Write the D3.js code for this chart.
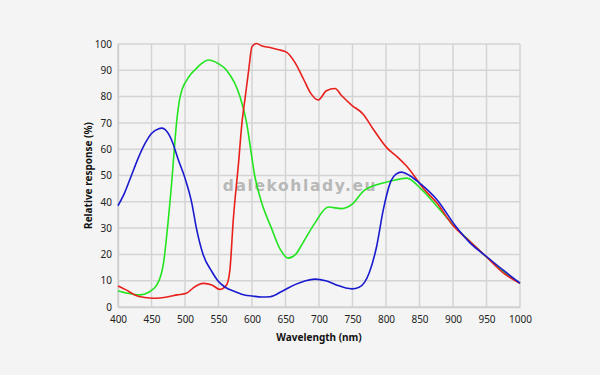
<!DOCTYPE html>
<html>
<head>
<meta charset="utf-8">
<script src="https://cdn.jsdelivr.net/npm/d3@7"></script>
<style>
  html, body { margin: 0; padding: 0; background: #f4f4f4; }
  svg { display: block; }
</style>
</head>
<body>
<svg id="chart" width="600" height="375"></svg>
<script>
const xTicks = [400, 450, 500, 550, 600, 650, 700, 750, 800, 850, 900, 950, 1000];
const yTicks = [0, 10, 20, 30, 40, 50, 60, 70, 80, 90, 100];

const blueWl = [400,410,420,430,440,450,460,465,470,480,490,500,510,517,527,540,549,560,575,590,600,614,627,645,665,680,694,710,725,740,749,760,775,786,796,806,815,823,835,853,876,904,925,950,975,1000];
const blueVal = [38.5,43.5,50,56.5,62,66,67.7,68,67.5,63.5,56,49,39.7,30,20,13.5,10,7.5,5.8,4.5,4.2,3.8,3.9,6,8.6,10,10.6,10,8.5,7.2,6.9,7.5,13,23,37,47,50.5,51.3,50,46.5,40.8,30.7,24.5,19.2,14,9.1];

const greenWl = [400,415,433,445,458,468,475,481,484,487,492,496,502,508,515,525,535,550,562,582,592,598,604,614,629,642,654,665,676,694,714,734,749,766,786,806,831,853,876,900,925,950,975,1000];
const greenVal = [6.2,5.2,4.6,5.5,8.4,16.8,33,50,60,69,79,83,86,88.3,90.2,92.6,93.9,92.5,90,80,70,60,50,40,30,22,18.6,20,24.4,32,38,37.4,39,44,46.5,47.8,49,44.7,38.3,31.3,25,19,13.5,9];

const redWl = [400,412,425,440,453,475,488,502,512,520,528,540,552,562,567,572,580,585,590,595,600,607,615,627,640,652,664,677,687,699,711,724,734,749,766,781,801,818,831,846,853,876,900,925,950,975,1000];
const redVal = [8,6.5,4.6,3.6,3.3,3.9,4.6,5.2,7.2,8.5,9.0,8.4,6.7,8.4,14,33,55,70,80,90,99,100.2,99.2,98.7,97.8,96.8,93,86.6,81.5,78.7,82.2,83.1,80.3,76.7,73.3,67.6,60.6,56.8,53.5,48.5,46,39.5,31,25,19,13,9];

const seriesNames = ["Red", "Green", "Blue"];
const seriesColors = ["#e8201c", "#22e41f", "#1a1ad0"];

const svg = d3.select("#chart");
const x = d3.scaleLinear().domain([400, 1000]).range([118, 520]);
const y = d3.scaleLinear().domain([0, 100]).range([307, 44]);
const font = "'Noto Sans', sans-serif";

// grid
svg.append("g").selectAll("line").data(xTicks).join("line")
  .attr("x1", d => x(d)).attr("x2", d => x(d))
  .attr("y1", y(0)).attr("y2", y(100))
  .attr("stroke", "#d4d4d4").attr("stroke-width", 1.5);
svg.append("g").selectAll("line").data(yTicks).join("line")
  .attr("x1", x(400)).attr("x2", x(1000))
  .attr("y1", d => y(d)).attr("y2", d => y(d))
  .attr("stroke", "#d4d4d4").attr("stroke-width", 1.5);

// axes
const xAxis = svg.append("g").attr("transform", `translate(0,${y(0)})`)
  .call(d3.axisBottom(x).tickValues(xTicks).tickSize(0).tickPadding(9).tickFormat(d3.format("d")));
const yAxis = svg.append("g").attr("transform", `translate(${x(400)},0)`)
  .call(d3.axisLeft(y).tickValues(yTicks).tickSize(0).tickPadding(6).tickFormat(d3.format("d")));
[xAxis, yAxis].forEach(a => {
  a.select(".domain").attr("stroke", "#cfcfcf").attr("stroke-width", 1.5);
  a.selectAll("text").attr("font-family", font).attr("font-size", 10).attr("fill", "#222");
});

// watermark
svg.append("text")
  .attr("x", 300).attr("y", 191)
  .attr("text-anchor", "middle")
  .attr("font-family", "'DejaVu Sans', sans-serif").attr("font-weight", "bold")
  .attr("font-size", 15.5).attr("letter-spacing", 1.6)
  .attr("fill", "#b8b8b8")
  .text("dalekohlady.eu");

// lines
const line = d3.line().curve(d3.curveMonotoneX).x(d => x(d[0])).y(d => y(d[1]));
const data = [
  d3.zip(redWl, redVal),
  d3.zip(greenWl, greenVal),
  d3.zip(blueWl, blueVal)
];
// draw order: green, red, blue
[1, 0, 2].forEach(i => {
  svg.append("path").datum(data[i])
    .attr("fill", "none").attr("stroke", seriesColors[i]).attr("stroke-width", 1.6)
    .attr("d", line);
});

// titles
svg.append("text")
  .attr("x", 319).attr("y", 341)
  .attr("text-anchor", "middle")
  .attr("font-family", font).attr("font-weight", "bold").attr("font-size", 10)
  .attr("fill", "#111")
  .text("Wavelength (nm)");
svg.append("text")
  .attr("transform", `translate(92,${(y(0) + y(100)) / 2}) rotate(-90)`)
  .attr("text-anchor", "middle")
  .attr("font-family", font).attr("font-weight", "bold").attr("font-size", 10)
  .attr("fill", "#111")
  .text("Relative response (%)");
</script>
</body>
</html>
